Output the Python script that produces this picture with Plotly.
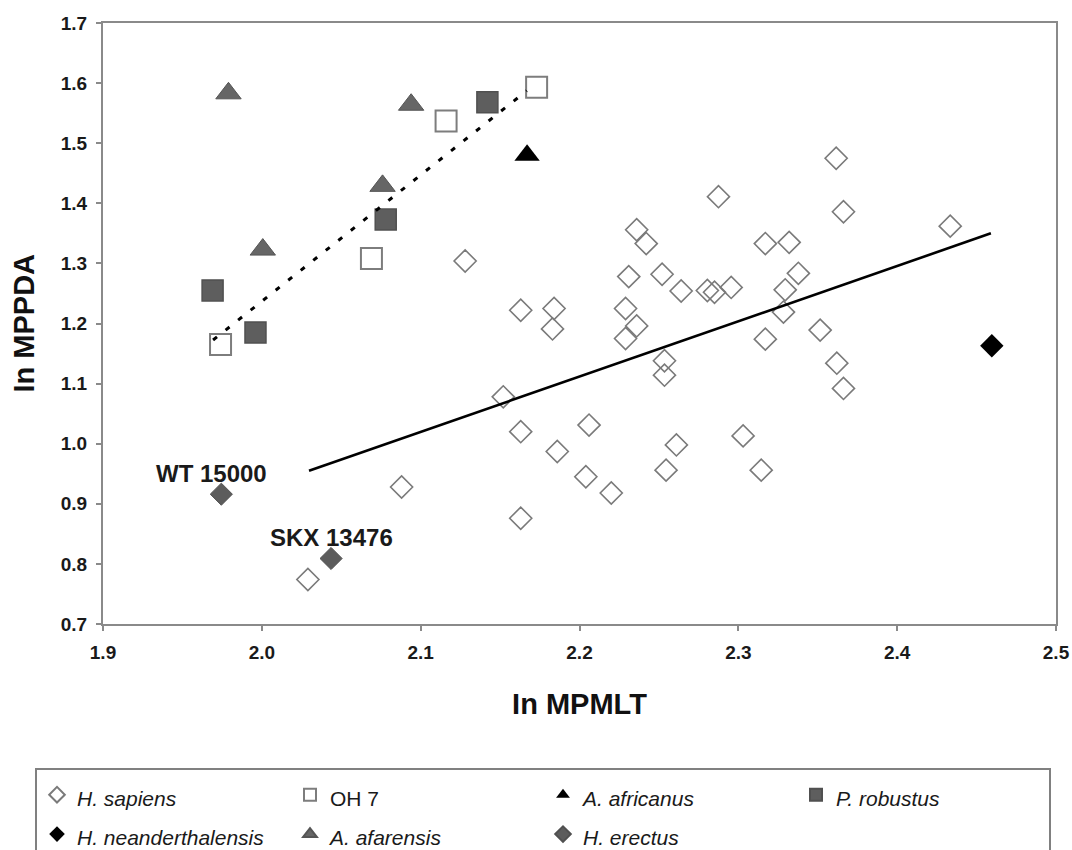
import plotly.graph_objects as go

# ln MPMLT (x) and ln MPPDA (y) for each group
sapiens_x = [2.029, 2.088, 2.128, 2.152, 2.163, 2.163, 2.163, 2.184, 2.183, 2.186,
             2.206, 2.204, 2.220, 2.229, 2.231, 2.229, 2.236, 2.236, 2.242, 2.252,
             2.2535, 2.2535, 2.2545, 2.261, 2.264, 2.2805, 2.285, 2.2875, 2.2955, 2.303,
             2.3144, 2.317, 2.317, 2.3284, 2.3295, 2.332, 2.3378, 2.3515, 2.3616, 2.362,
             2.3662, 2.3662, 2.4334]
sapiens_y = [0.774, 0.928, 1.304, 1.078, 1.222, 1.020, 0.876, 1.225, 1.191, 0.987,
             1.031, 0.945, 0.918, 1.225, 1.278, 1.175, 1.196, 1.356, 1.333, 1.282,
             1.138, 1.114, 0.956, 0.998, 1.254, 1.255, 1.252, 1.411, 1.260, 1.013,
             0.956, 1.333, 1.174, 1.219, 1.256, 1.335, 1.2835, 1.189, 1.475, 1.134,
             1.386, 1.092, 1.362]

oh7_x = [1.974, 2.069, 2.116, 2.173]
oh7_y = [1.165, 1.308, 1.537, 1.593]

africanus_x = [2.167]
africanus_y = [1.480]

robustus_x = [1.969, 1.996, 2.078, 2.142]
robustus_y = [1.255, 1.185, 1.373, 1.568]

neanderthalensis_x = [2.4596]
neanderthalensis_y = [1.163]

afarensis_x = [1.979, 2.0006, 2.076, 2.094]
afarensis_y = [1.583, 1.323, 1.429, 1.564]

erectus_x = [1.9745, 2.0436]
erectus_y = [0.916, 0.809]
erectus_labels = ["WT 15000", "SKX 13476"]

# regression lines (end points)
sapiens_fit_x = [2.0297, 2.459]
sapiens_fit_y = [0.955, 1.350]
early_fit_x = [1.9693, 2.1668]
early_fit_y = [1.1725, 1.5874]

x_ticks = [1.9, 2.0, 2.1, 2.2, 2.3, 2.4, 2.5]
y_ticks = [0.7, 0.8, 0.9, 1.0, 1.1, 1.2, 1.3, 1.4, 1.5, 1.6, 1.7]

FONT = "Arial, Liberation Sans, sans-serif"


def legend_name(text):
    # legend rows are spaced by the legend font size; the label itself is drawn smaller
    return f'<span style="font-size:21px">{text}</span>'


fig = go.Figure()

fig.add_trace(go.Scatter(
    x=sapiens_x, y=sapiens_y, mode="markers", name=legend_name("<i>H. sapiens</i>"),
    marker=dict(symbol="diamond-open", size=17, color="#7a7a7a", line=dict(width=1.6, color="#7a7a7a"))))
fig.add_trace(go.Scatter(
    x=oh7_x, y=oh7_y, mode="markers", name=legend_name("OH 7"),
    marker=dict(symbol="square", size=21, color="white", line=dict(width=2, color="#7d7d7d"))))
fig.add_trace(go.Scatter(
    x=africanus_x, y=africanus_y, mode="markers", name=legend_name("<i>A. africanus</i>"),
    marker=dict(symbol="triangle-up", size=22, color="black", line=dict(width=0))))
fig.add_trace(go.Scatter(
    x=robustus_x, y=robustus_y, mode="markers", name=legend_name("<i>P. robustus</i>"),
    marker=dict(symbol="square", size=21, color="#5e5e5e", line=dict(width=1.5, color="#505050"))))
fig.add_trace(go.Scatter(
    x=neanderthalensis_x, y=neanderthalensis_y, mode="markers",
    name=legend_name("<i>H. neanderthalensis</i>"),
    marker=dict(symbol="diamond", size=18, color="black", line=dict(width=0))))
fig.add_trace(go.Scatter(
    x=afarensis_x, y=afarensis_y, mode="markers", name=legend_name("<i>A. afarensis</i>"),
    marker=dict(symbol="triangle-up", size=22, color="#666666", line=dict(width=1, color="#555555"))))
fig.add_trace(go.Scatter(
    x=erectus_x, y=erectus_y, mode="markers", name=legend_name("<i>H. erectus</i>"),
    marker=dict(symbol="diamond", size=17, color="#5c5c5c", line=dict(width=1, color="#505050"))))

fig.add_trace(go.Scatter(
    x=sapiens_fit_x, y=sapiens_fit_y, mode="lines", showlegend=False,
    line=dict(color="black", width=2.6)))
fig.add_trace(go.Scatter(
    x=early_fit_x, y=early_fit_y, mode="lines", showlegend=False,
    line=dict(color="black", width=3, dash="5px,11px")))

for lx, ly, txt, dx in zip(erectus_x, erectus_y, erectus_labels, [-10, 0]):
    fig.add_annotation(x=lx, y=ly, text=f"<b>{txt}</b>", showarrow=False,
                       xanchor="center", yanchor="middle", xshift=dx, yshift=21,
                       font=dict(family=FONT, size=24, color="#1a1a1a"))

# y-axis title, placed left of the tick labels
fig.add_annotation(xref="paper", yref="paper", x=(23 - 103) / 953, y=0.5,
                   text="<b>In MPPDA</b>", textangle=-90, showarrow=False,
                   xanchor="center", yanchor="middle",
                   font=dict(family=FONT, size=29, color="#111111"))

axis_common = dict(
    showgrid=False, zeroline=False, showline=True, linecolor="#8a8a8a", linewidth=2,
    mirror=True, ticks="outside", ticklen=5, tickwidth=2, tickcolor="#8a8a8a",
    tickfont=dict(family=FONT, size=19, color="#1a1a1a"),
)

fig.update_layout(
    width=1072, height=850,
    margin=dict(l=103, r=16, t=23, b=226, autoexpand=False),
    paper_bgcolor="white", plot_bgcolor="white",
    font=dict(family=FONT),
    xaxis=dict(range=[1.9, 2.5], tickvals=x_ticks, ticktext=[f"<b>{v:.1f}</b>" for v in x_ticks],
               ticklabelstandoff=5,
               title=dict(text="<b>In MPMLT</b>", font=dict(family=FONT, size=29, color="#111111"),
                          standoff=32),
               **axis_common),
    yaxis=dict(range=[0.7, 1.7], tickvals=y_ticks, ticktext=[f"<b>{v:.1f}</b>" for v in y_ticks],
               ticklabelstandoff=5, **axis_common),
    showlegend=True,
    legend=dict(
        orientation="h", xref="paper", yref="paper",
        x=(35 - 103) / 953, y=(624 - 768) / 601, xanchor="left", yanchor="top",
        bordercolor="#808080", borderwidth=2, bgcolor="white",
        entrywidth=208, entrywidthmode="pixels", itemsizing="constant",
        font=dict(family=FONT, size=28, color="#1a1a1a"),
    ),
)

fig.write_html("out.html")
